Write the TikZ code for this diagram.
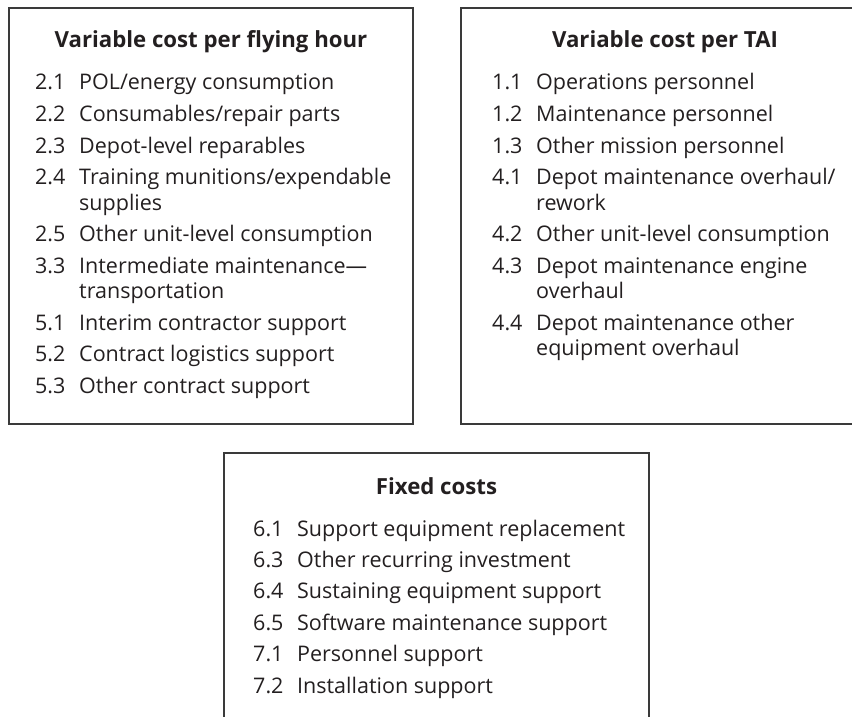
\documentclass[tikz,border=0pt]{standalone}
\usepackage{fontspec}
\setmainfont{Open Sans}
\definecolor{txt}{HTML}{231F20}
\definecolor{edge}{HTML}{3A3A3A}
\newcommand\costitem[2]{\begin{tabular}[t]{@{}l@{}l@{}}\makebox[44pt][l]{#1}&#2\end{tabular}}
\begin{document}
\begin{tikzpicture}[x=1pt,y=-1pt,
  box/.style={draw=edge,line width=1.4pt},
  ttl/.style={anchor=base,font=\fontsize{22.2}{26}\selectfont\bfseries,text=txt,inner sep=0pt},
  itm/.style={anchor=base west,font=\fontsize{21.5}{25.5}\selectfont,text=txt,inner sep=0pt}]
\useasboundingbox (0,0) rectangle (852,717);
% boxes
\draw[box] (9,8) rectangle (413,424);
\draw[box] (461,8) rectangle (870,424);
\draw[box] (224,453) rectangle (649,740);
% box 1
\node[ttl] (t1) at (211,48) {Variable cost per flying hour};
\node[itm] (a21) at (35,90) {\costitem{2.1}{POL/energy consumption}};
\node[itm] (a22) at (35,121.5) {\costitem{2.2}{Consumables/repair parts}};
\node[itm] (a23) at (35,153) {\costitem{2.3}{Depot-level reparables}};
\node[itm] (a24) at (35,184.5) {\costitem{2.4}{Training munitions/expendable\\&supplies}};
\node[itm] (a25) at (35,241.5) {\costitem{2.5}{Other unit-level consumption}};
\node[itm] (a33) at (35,273) {\costitem{3.3}{Intermediate maintenance---\\&transportation}};
\node[itm] (a51) at (35,330) {\costitem{5.1}{Interim contractor support}};
\node[itm] (a52) at (35,361.5) {\costitem{5.2}{Contract logistics support}};
\node[itm] (a53) at (35,393) {\costitem{5.3}{Other contract support}};
% box 2
\node[ttl] (t2) at (665,48) {Variable cost per TAI};
\node[itm] (b11) at (492,90) {\costitem{1.1}{Operations personnel}};
\node[itm] (b12) at (492,121.5) {\costitem{1.2}{Maintenance personnel}};
\node[itm] (b13) at (492,153) {\costitem{1.3}{Other mission personnel}};
\node[itm] (b41) at (492,184.5) {\costitem{4.1}{Depot maintenance overhaul/\\&rework}};
\node[itm] (b42) at (492,241.5) {\costitem{4.2}{Other unit-level consumption}};
\node[itm] (b43) at (492,273) {\costitem{4.3}{Depot maintenance engine\\&overhaul}};
\node[itm] (b44) at (492,330) {\costitem{4.4}{Depot maintenance other\\&equipment overhaul}};
% box 3
\node[ttl] (t3) at (436.5,494) {Fixed costs};
\node[itm] (c61) at (253,536) {\costitem{6.1}{Support equipment replacement}};
\node[itm] (c63) at (253,567.4) {\costitem{6.3}{Other recurring investment}};
\node[itm] (c64) at (253,598.8) {\costitem{6.4}{Sustaining equipment support}};
\node[itm] (c65) at (253,630.2) {\costitem{6.5}{Software maintenance support}};
\node[itm] (c71) at (253,661.6) {\costitem{7.1}{Personnel support}};
\node[itm] (c72) at (253,693) {\costitem{7.2}{Installation support}};
\end{tikzpicture}
\end{document}
